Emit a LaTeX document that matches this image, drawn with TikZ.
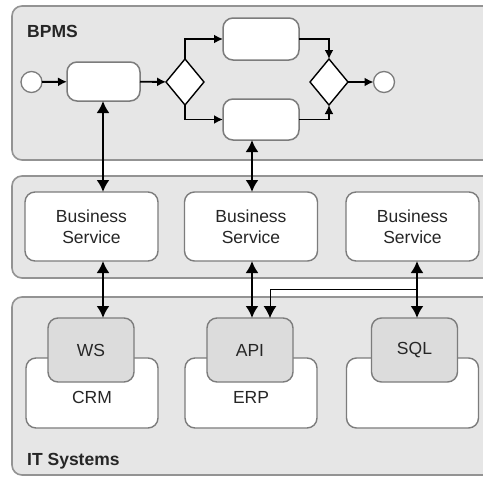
\documentclass[tikz,border=0pt]{standalone}
\usepackage{fontspec}
\setmainfont{Liberation Sans}
\usetikzlibrary{arrows.meta,shapes.geometric}
\definecolor{panelfill}{HTML}{E6E6E6}
\definecolor{panelline}{HTML}{939393}
\definecolor{boxline}{HTML}{7C7C7C}
\definecolor{tabfill}{HTML}{DCDCDC}
\definecolor{txt}{HTML}{262626}
\begin{document}
\begin{tikzpicture}[x=1pt,y=-1pt,
  panel/.style={draw=panelline,fill=panelfill,line width=1.6pt,rounded corners=10pt,inner sep=0pt,outer sep=0pt,anchor=north west},
  task/.style={draw=boxline,fill=white,line width=1.5pt,rounded corners=10pt,inner sep=0pt,outer sep=0pt},
  svc/.style={draw=boxline,fill=white,line width=1.4pt,rounded corners=10pt,inner sep=0pt,outer sep=0pt,minimum width=133pt,minimum height=69pt,align=center,text=txt,font=\fontsize{17.5}{20.5}\selectfont},
  sys/.style={draw=boxline,fill=white,line width=1.4pt,rounded corners=10pt,inner sep=0pt,outer sep=0pt,minimum width=132pt,minimum height=70pt},
  tab/.style={draw=boxline,fill=tabfill,line width=1.4pt,rounded corners=10pt,inner sep=0pt,outer sep=0pt,minimum width=86pt,minimum height=64pt,text=txt,font=\fontsize{17.5}{20}\selectfont},
  lbl/.style={text=txt,font=\fontsize{17.5}{20}\selectfont,inner sep=0pt},
  title/.style={text=txt,font=\fontsize{17.5}{20}\selectfont\bfseries,inner sep=0pt,anchor=base west},
  evt/.style={circle,draw=boxline,fill=white,line width=1.3pt,minimum size=21pt,inner sep=0pt,outer sep=0pt},
  gw/.style={diamond,draw=black,fill=white,line width=1.4pt,minimum width=38pt,minimum height=46pt,inner sep=0pt,outer sep=0pt},
  flow/.style={-{Latex[length=9pt,width=9pt]},line width=1.9pt,black},
  dbl/.style={{Latex[length=12pt,width=13pt]}-{Latex[length=12pt,width=13pt]},line width=2.1pt,black},
  thin/.style={-{Latex[length=12pt,width=13pt]},line width=0.9pt,black}]
\useasboundingbox (0,0) rectangle (483,477);
\clip (0,0) rectangle (483,477);
\fill[white] (0,0) rectangle (483,477);

% panels
\node[panel,minimum width=490pt,minimum height=154pt] (pbpms) at (12,6) {};
\node[panel,minimum width=490pt,minimum height=102pt] (psvc) at (12,176) {};
\node[panel,minimum width=490pt,minimum height=178pt] (pit) at (12,297) {};
\node[title] (tbpms) at (27,37) {BPMS};
\node[title] (tit) at (27,465) {IT Systems};

% BPMS flow
\node[evt] (start) at (31.5,82) {};
\node[task,minimum width=73pt,minimum height=39pt] (t1) at (103.5,81.5) {};
\node[gw] (d1) at (185,82) {};
\node[task,minimum width=76pt,minimum height=42pt] (tt) at (261,39) {};
\node[task,minimum width=76pt,minimum height=41pt] (tb) at (261,119.5) {};
\node[gw] (d2) at (329,82) {};
\node[evt] (end) at (384,82) {};

\draw[flow] (start) -- (t1);
\draw[flow] (t1) -- (d1);
\draw[flow] (d1.north) |- (tt.west);
\draw[flow] (d1.south) |- (tb.west);
\draw[flow] (tt.east) -| (d2.north);
\draw[flow] (tb.east) -| (d2.south);
\draw[flow] (d2) -- (end);

% business services
\node[svc] (bs1) at (91.5,226.5) {Business\\Service};
\node[svc] (bs2) at (251,226.5) {Business\\Service};
\node[svc] (bs3) at (412.5,226.5) {Business\\Service};

% IT systems
\node[sys] (crm) at (92,393) {};
\node[sys] (erp) at (251,393) {};
\node[sys] (oth) at (412.5,393) {};
\node[tab] (ws) at (91,350) {WS};
\node[tab] (api) at (250,350) {API};
\node[tab] (sql) at (414.5,350) {SQL};
\node[lbl] (crml) at (92,397.5) {CRM};
\node[lbl] (erpl) at (251,397.5) {ERP};

% connectors
\coordinate (x1) at (103,0);
\coordinate (x2) at (252,0);
\coordinate (x3) at (417,0);
\coordinate (x4) at (270,0);
\coordinate (yj) at (0,289);
\draw[dbl] (bs1.north -| x1) -- (t1.south -| x1);
\draw[dbl] (bs2.north -| x2) -- (tb.south -| x2);
\draw[dbl] (bs1.south -| x1) -- (ws.north -| x1);
\draw[dbl] (bs2.south -| x2) -- (api.north -| x2);
\draw[dbl] (bs3.south -| x3) -- (sql.north -| x3);
\draw[thin] (x3 |- yj) -- (x4 |- yj) -- (api.north -| x4);
\end{tikzpicture}
\end{document}
